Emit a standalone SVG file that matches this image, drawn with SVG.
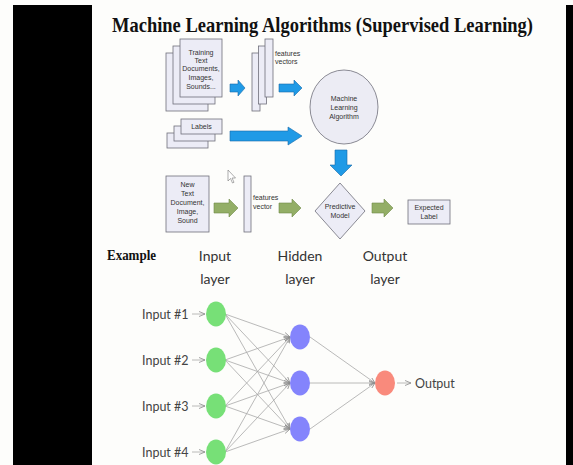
<svg xmlns="http://www.w3.org/2000/svg" width="573" height="465" viewBox="0 0 573 465">
<defs>
<style>
.doc{fill:#ececf6;stroke:#6f6f7a;stroke-width:0.8}
.small{font-family:"Liberation Sans",Arial,sans-serif;font-size:7px;fill:#333;text-anchor:middle}
.smallL{font-family:"Liberation Sans",Arial,sans-serif;font-size:7px;fill:#333}
.blue{fill:#1f9ae6;stroke:#1a6aa8;stroke-width:0.6}
.green{fill:#93ae66;stroke:#6f8a48;stroke-width:0.6}
.layer{font-family:Lato,"Open Sans",sans-serif;font-size:14px;fill:#333;text-anchor:middle}
.nl{font-family:Lato,"Open Sans",sans-serif;font-size:12.5px;fill:#444}
.edge{stroke:#a8a8a8;stroke-width:0.8;fill:none;marker-end:url(#ah)}
.in{fill:#77e077}
.hid{fill:#8484fc}
.out{fill:#f98a7c}
</style>
<marker id="ah" viewBox="0 0 6 6" refX="6" refY="3" markerWidth="6" markerHeight="6" markerUnits="userSpaceOnUse" orient="auto">
<path d="M0,0.5 L6,3 L0,5.5" fill="none" stroke="#8a8a8a" stroke-width="0.8"/>
</marker>
</defs>
<rect x="0" y="0" width="573" height="465" fill="#fdfdfb"/>
<rect x="13" y="5" width="79" height="460" fill="#000"/>
<rect x="566" y="5" width="7" height="460" fill="#000"/>
<text x="112" y="32" font-family="Liberation Serif,'Times New Roman',serif" font-weight="bold" font-size="21" fill="#111" textLength="421" lengthAdjust="spacingAndGlyphs">Machine Learning Algorithms (Supervised Learning)</text>

<g id="training-docs">
<rect class="doc" x="166" y="53" width="42" height="58"/>
<rect class="doc" x="173" y="46" width="42" height="58"/>
<rect class="doc" x="180" y="39" width="42" height="58"/>
<text class="small" x="201" y="55">Training</text>
<text class="small" x="201" y="63">Text</text>
<text class="small" x="201" y="71">Documents,</text>
<text class="small" x="201" y="80">Images,</text>
<text class="small" x="201" y="89">Sounds...</text>
</g>
<g id="features-vectors">
<rect class="doc" x="252" y="53" width="8" height="58"/>
<rect class="doc" x="258.5" y="46" width="8" height="58"/>
<rect class="doc" x="265" y="39" width="8" height="58"/>
<text class="smallL" x="275" y="56">features</text>
<text class="smallL" x="275" y="64">vectors</text>
</g>
<g id="ml-algorithm">
<ellipse cx="344" cy="107" rx="34" ry="37" fill="#ececf4" stroke="#6f6f7a" stroke-width="0.8"/>
<text class="small" x="344" y="101">Machine</text>
<text class="small" x="344" y="110">Learning</text>
<text class="small" x="344" y="119">Algorithm</text>
</g>
<g id="labels">
<rect class="doc" x="167" y="133" width="41" height="15"/>
<rect class="doc" x="174" y="126" width="41" height="15"/>
<rect class="doc" x="181" y="119" width="41" height="15"/>
<text class="small" x="201.5" y="129">Labels</text>
</g>
<g id="new-doc">
<rect class="doc" x="166" y="176" width="43" height="56"/>
<text class="small" x="187.5" y="187">New</text>
<text class="small" x="187.5" y="196">Text</text>
<text class="small" x="187.5" y="205">Document,</text>
<text class="small" x="187.5" y="214">Image,</text>
<text class="small" x="187.5" y="223">Sound</text>
</g>
<g id="feature-vector">
<rect class="doc" x="244" y="176" width="7" height="56"/>
<text class="smallL" x="253" y="200">features</text>
<text class="smallL" x="253" y="209">vector</text>
</g>
<g id="predictive-model">
<polygon points="340,183 365,211 340,239 315,211" fill="#ececf6" stroke="#6f6f7a" stroke-width="0.8"/>
<text class="small" x="340" y="209">Predictive</text>
<text class="small" x="340" y="218">Model</text>
</g>
<g id="expected-label">
<rect class="doc" x="408" y="200" width="42" height="24"/>
<text class="small" x="429" y="210">Expected</text>
<text class="small" x="429" y="219">Label</text>
</g>
<g id="pipeline-connectors">
<path class="blue" d="M230,84 L238,84 L238,80 L245,88 L238,96 L238,92 L230,92 Z"/>
<path class="blue" d="M279,84 L294,84 L294,80 L302,88 L294,96 L294,92 L279,92 Z"/>
<path class="blue" d="M230,131 L288,131 L288,127 L302,136 L288,145 L288,141 L230,141 Z"/>
<path class="blue" d="M335,150 L347,150 L347,165 L352,165 L341,176 L330,165 L335,165 Z"/>
<path class="green" d="M214,203 L229,203 L229,199 L238,208 L229,217 L229,213 L214,213 Z"/>
<path class="green" d="M279,203 L292,203 L292,199 L301,208 L292,217 L292,213 L279,213 Z"/>
<path class="green" d="M372,203 L384,203 L384,199 L393,208 L384,217 L384,213 L372,213 Z"/>
</g>
<path d="M228,170 L228,181 L230.5,178.5 L232.5,183 L234,182.3 L232,178 L235.5,178 Z" fill="#fff" stroke="#777" stroke-width="0.6"/>

<text x="107" y="260" font-family="Liberation Serif,'Times New Roman',serif" font-weight="bold" font-size="14" fill="#111" textLength="49" lengthAdjust="spacingAndGlyphs">Example</text>
<text class="layer" x="215" y="261">Input</text>
<text class="layer" x="215" y="284">layer</text>
<text class="layer" x="300" y="261">Hidden</text>
<text class="layer" x="300" y="284">layer</text>
<text class="layer" x="385" y="261">Output</text>
<text class="layer" x="385" y="284">layer</text>

<g id="nn-connectors">
<line class="edge" x1="192" y1="314" x2="205" y2="314"/>
<line class="edge" x1="192" y1="360" x2="205" y2="360"/>
<line class="edge" x1="192" y1="406" x2="205" y2="406"/>
<line class="edge" x1="192" y1="452" x2="205" y2="452"/>
<line class="edge" x1="225" y1="314" x2="290" y2="337"/>
<line class="edge" x1="225" y1="314" x2="290" y2="383"/>
<line class="edge" x1="225" y1="314" x2="290" y2="429"/>
<line class="edge" x1="225" y1="360" x2="290" y2="337"/>
<line class="edge" x1="225" y1="360" x2="290" y2="383"/>
<line class="edge" x1="225" y1="360" x2="290" y2="429"/>
<line class="edge" x1="225" y1="406" x2="290" y2="337"/>
<line class="edge" x1="225" y1="406" x2="290" y2="383"/>
<line class="edge" x1="225" y1="406" x2="290" y2="429"/>
<line class="edge" x1="225" y1="452" x2="290" y2="337"/>
<line class="edge" x1="225" y1="452" x2="290" y2="383"/>
<line class="edge" x1="225" y1="452" x2="290" y2="429"/>
<line class="edge" x1="310" y1="337" x2="375" y2="383"/>
<line class="edge" x1="310" y1="383" x2="375" y2="383"/>
<line class="edge" x1="310" y1="429" x2="375" y2="383"/>
<line class="edge" x1="397" y1="383" x2="411" y2="383"/>
</g>
<g id="input1"><ellipse class="in" cx="216" cy="314" rx="10" ry="12.5"/><text class="nl" x="142" y="318.5">Input #1</text></g>
<g id="input2"><ellipse class="in" cx="216" cy="360" rx="10" ry="12.5"/><text class="nl" x="142" y="364.5">Input #2</text></g>
<g id="input3"><ellipse class="in" cx="216" cy="406" rx="10" ry="12.5"/><text class="nl" x="142" y="410.5">Input #3</text></g>
<g id="input4"><ellipse class="in" cx="216" cy="452" rx="10" ry="12.5"/><text class="nl" x="142" y="456.5">Input #4</text></g>
<g id="hidden1"><ellipse class="hid" cx="300" cy="337" rx="10" ry="12.5"/></g>
<g id="hidden2"><ellipse class="hid" cx="300" cy="383" rx="10" ry="12.5"/></g>
<g id="hidden3"><ellipse class="hid" cx="300" cy="429" rx="10" ry="12.5"/></g>
<g id="output"><ellipse class="out" cx="385" cy="383" rx="10" ry="12.5"/><text class="nl" x="415" y="387.5">Output</text></g>
</svg>
